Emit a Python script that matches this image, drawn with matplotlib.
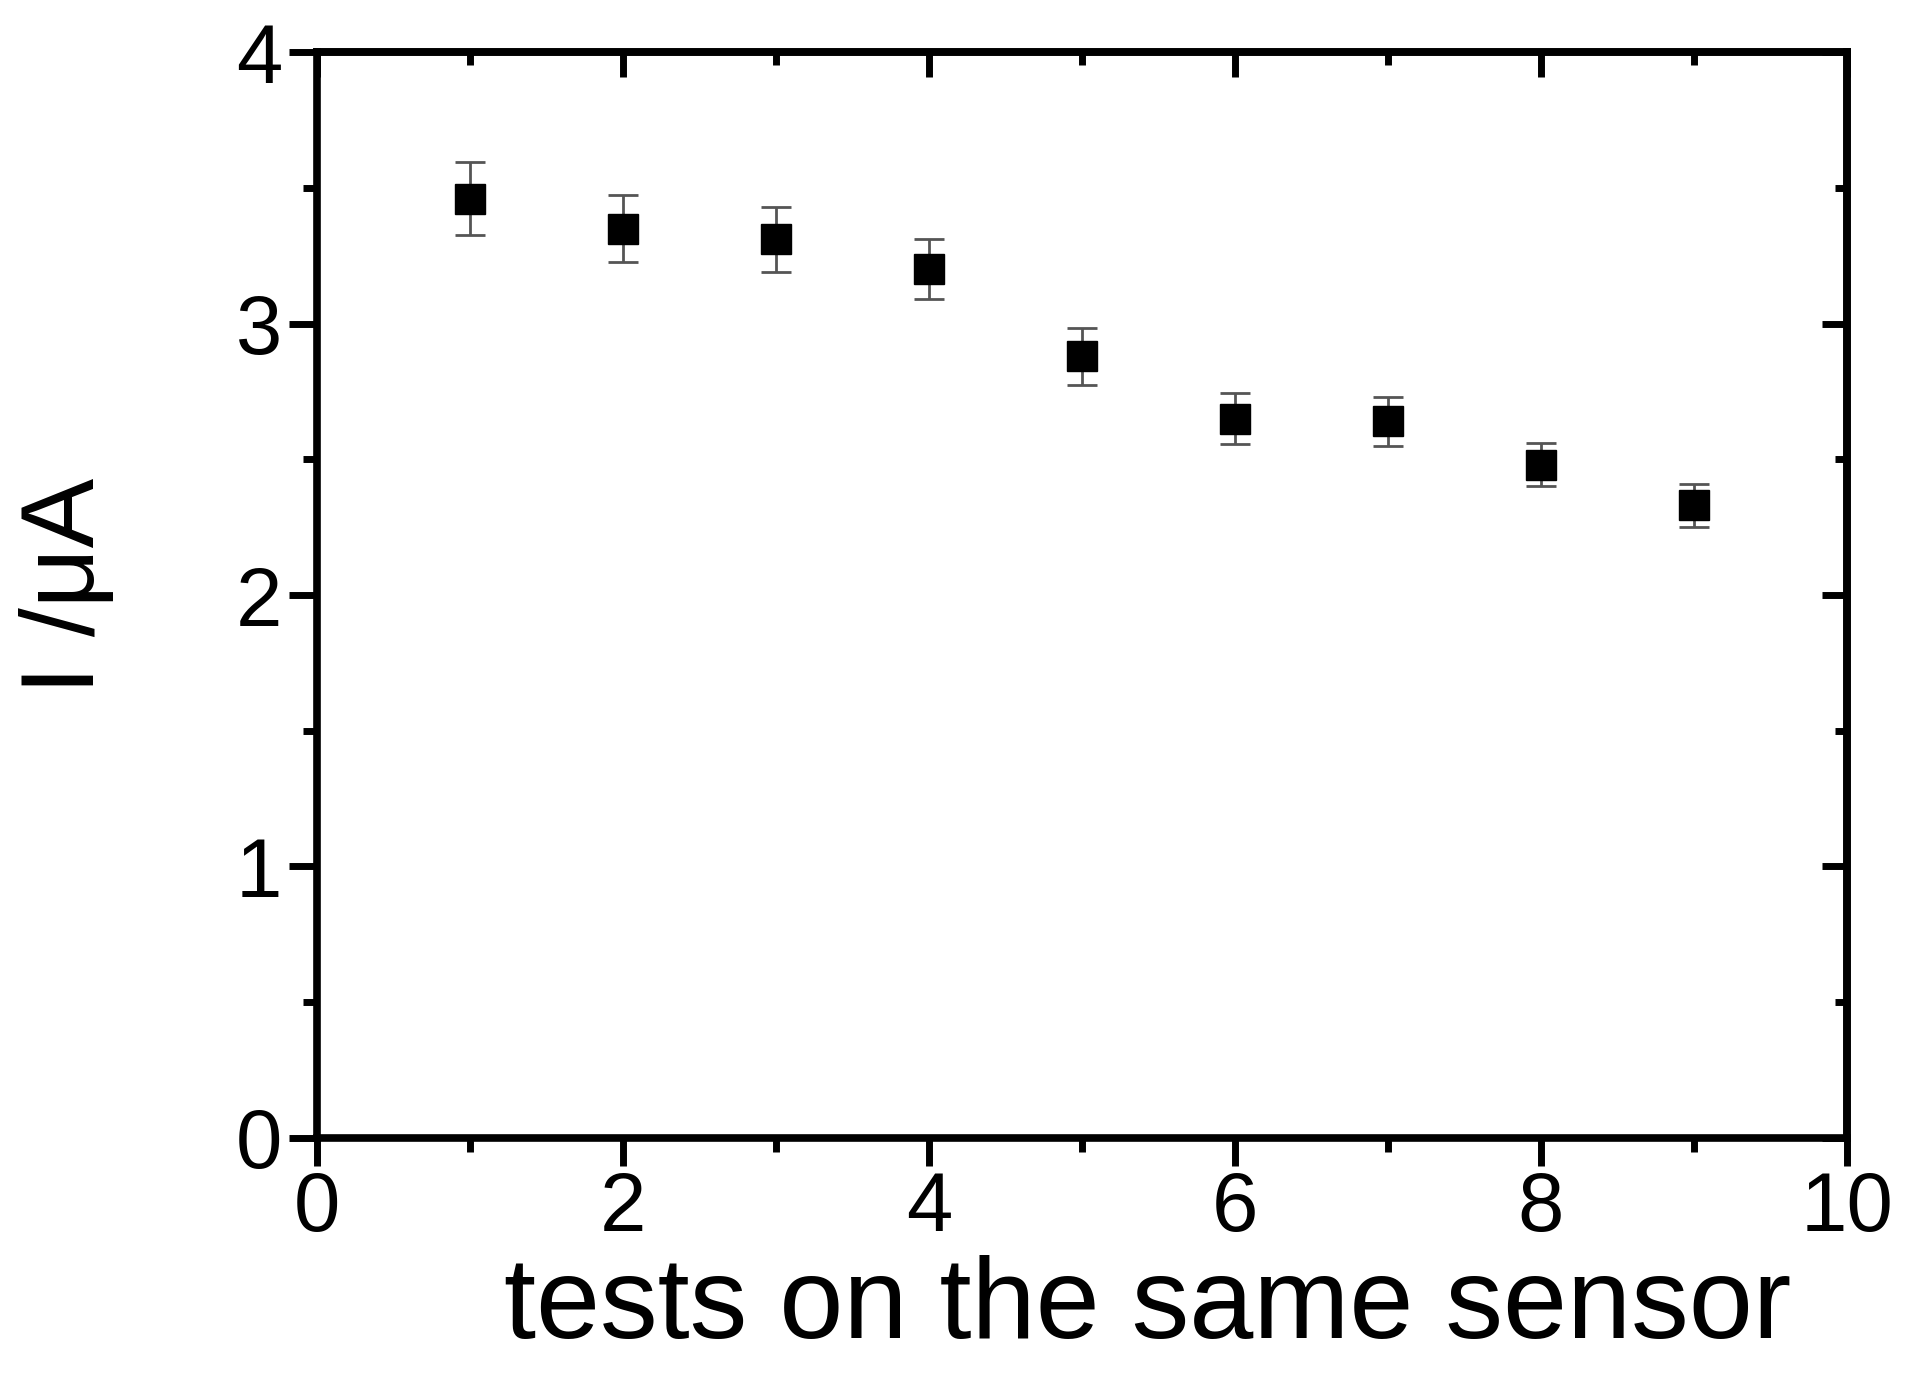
import numpy as np
import matplotlib.pyplot as plt
from matplotlib.ticker import MultipleLocator

# values
tests = [1, 2, 3, 4, 5, 6, 7, 8, 9]
current = [3.46, 3.35, 3.31, 3.20, 2.88, 2.65, 2.64, 2.48, 2.33]
current_err = [0.135, 0.125, 0.12, 0.11, 0.105, 0.095, 0.09, 0.08, 0.08]

plt.rcParams['font.family'] = ['Liberation Sans', 'DejaVu Sans']

fig = plt.figure(figsize=(19.15, 13.77), dpi=100)
ax = fig.add_axes([0.1655, 0.1736, 0.799, 0.7886])

ax.errorbar(tests, current, yerr=current_err, fmt='none', ecolor='#555555',
            elinewidth=2, capsize=11, capthick=2, zorder=2)
ax.plot(tests, current, 's', color='black', markersize=22, zorder=3)

ax.set_xlim(0, 10)
ax.set_ylim(0, 4)
ax.xaxis.set_major_locator(MultipleLocator(2))
ax.xaxis.set_minor_locator(MultipleLocator(1))
ax.yaxis.set_major_locator(MultipleLocator(1))
ax.yaxis.set_minor_locator(MultipleLocator(0.5))

for sp in ax.spines.values():
    sp.set_linewidth(5.5)

ax.tick_params(which='major', direction='out', length=20, width=5,
               labelsize=60, pad=3)
ax.tick_params(which='minor', direction='out', length=10, width=5)
ax.tick_params(axis='y', which='major', pad=5)

# inward ticks on top and right
top = ax.secondary_xaxis('top')
top.xaxis.set_major_locator(MultipleLocator(2))
top.xaxis.set_minor_locator(MultipleLocator(1))
top.tick_params(which='major', direction='in', length=18, width=5, labeltop=False)
top.tick_params(which='minor', direction='in', length=9, width=5)
right = ax.secondary_yaxis('right')
right.yaxis.set_major_locator(MultipleLocator(1))
right.yaxis.set_minor_locator(MultipleLocator(0.5))
right.tick_params(which='major', direction='in', length=18, width=5, labelright=False)
right.tick_params(which='minor', direction='in', length=9, width=5)
for sa in (top, right):
    for sp in sa.spines.values():
        sp.set_linewidth(5.5)

ax.set_ylabel('I /\u03bcA', fontsize=75)
ax.yaxis.set_label_coords(-0.131, 0.508)
ax.set_xlabel('tests on the same sensor', fontsize=83)
ax.xaxis.set_label_coords(0.543, -0.108)

fig.savefig('out.png', dpi=100, facecolor='white')
